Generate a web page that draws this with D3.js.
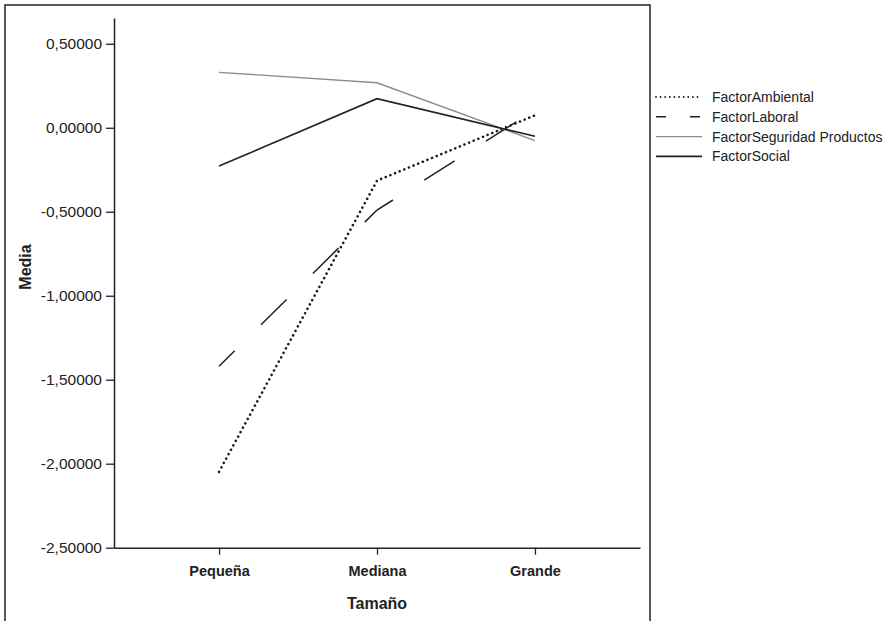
<!DOCTYPE html>
<html>
<head>
<meta charset="utf-8">
<script src="https://cdn.jsdelivr.net/npm/d3@7"></script>
<style>
  html, body { margin: 0; padding: 0; background: #fff; }
  svg { display: block; font-family: "Liberation Sans", Arial, Helvetica, sans-serif; }
</style>
</head>
<body>
<svg id="chart" width="893" height="621"></svg>
<script>
// ---- Data ----
const categories = ["Pequeña", "Mediana", "Grande"];
const seriesNames = ["FactorAmbiental", "FactorLaboral", "FactorSeguridad Productos", "FactorSocial"];
const ambiental = [-2.048, -0.315, 0.074];
const laboral = [-1.42, -0.49, 0.105];
const seguridad = [0.330, 0.268, -0.077];
const social = [-0.228, 0.173, -0.051];
const yTicks = [0.5, 0, -0.5, -1, -1.5, -2, -2.5];
const yTitle = "Media";
const xTitle = "Tamaño";

const seriesValues = [ambiental, laboral, seguridad, social];
const styles = [
  { stroke: "#1a1a1a", width: 2.6, dash: "0.01,5", cap: "round", legendDash: "0.01,4.6", offset: 0 },
  { stroke: "#222", width: 1.5, dash: "36,37", cap: "butt", legendDash: "10,24", offset: 14 },
  { stroke: "#8c8c8c", width: 1.4, dash: null, cap: "butt", legendDash: null, offset: 0 },
  { stroke: "#222", width: 1.6, dash: null, cap: "butt", legendDash: null, offset: 0 }
];

const svg = d3.select("#chart");
const locale = d3.formatLocale({ decimal: ",", thousands: ".", grouping: [3], currency: ["", "€"], minus: "-" });
const fmt = locale.format(".5f");

// frame
svg.append("rect")
  .attr("x", 5).attr("y", 5).attr("width", 645).attr("height", 630)
  .attr("fill", "none").attr("stroke", "#222").attr("stroke-width", 1.5);

const plotLeft = 114, plotRight = 640, plotTop = 18, plotBottom = 547.7;

const x = d3.scalePoint().domain(categories).range([plotLeft, plotRight]).padding(0.665);
const y = d3.scaleLinear().domain([-2.5, 0.6535]).range([plotBottom, plotTop]);

// y axis
const yAxis = svg.append("g")
  .attr("transform", `translate(${plotLeft},0)`)
  .call(d3.axisLeft(y).tickValues(yTicks).tickFormat(fmt).tickSize(8).tickPadding(4).tickSizeOuter(0));
yAxis.select(".domain").attr("stroke", "#222").attr("stroke-width", 1.5);
yAxis.selectAll(".tick line").attr("stroke", "#222").attr("stroke-width", 1.3);
yAxis.selectAll(".tick text").attr("fill", "#222").style("font-size", "15.5px");

// x axis
const xAxis = svg.append("g")
  .attr("transform", `translate(0,${plotBottom})`)
  .call(d3.axisBottom(x).tickSize(7).tickPadding(11).tickSizeOuter(0));
xAxis.select(".domain").attr("stroke", "#222").attr("stroke-width", 1.5);
xAxis.selectAll(".tick line").attr("stroke", "#222").attr("stroke-width", 1.3);
xAxis.selectAll(".tick text").attr("fill", "#222").style("font-size", "14.5px").style("font-weight", "bold");

// axis titles
svg.append("text")
  .attr("transform", "translate(31,267) rotate(-90)")
  .attr("text-anchor", "middle")
  .attr("fill", "#222").style("font-size", "16px").style("font-weight", "bold")
  .text(yTitle);
svg.append("text")
  .attr("x", x("Mediana")).attr("y", 609)
  .attr("text-anchor", "middle")
  .attr("fill", "#222").style("font-size", "16px").style("font-weight", "bold")
  .text(xTitle);

// lines
const line = d3.line().x((d, i) => x(categories[i])).y(d => y(d));
seriesValues.forEach((vals, k) => {
  const s = styles[k];
  const p = svg.append("path")
    .datum(vals)
    .attr("d", line)
    .attr("fill", "none")
    .attr("stroke", s.stroke)
    .attr("stroke-width", s.width)
    .attr("stroke-linecap", s.cap)
    .attr("stroke-linejoin", "miter");
  if (s.dash) p.attr("stroke-dasharray", s.dash).attr("stroke-dashoffset", s.offset);
});

// legend
const lg = svg.append("g");
seriesNames.forEach((name, k) => {
  const s = styles[k];
  const yy = 97 + k * 19.8;
  const l = lg.append("line")
    .attr("x1", 656).attr("x2", 702).attr("y1", yy).attr("y2", yy)
    .attr("stroke", s.stroke)
    .attr("stroke-width", k === 0 ? 1.8 : s.width)
    .attr("stroke-linecap", s.cap);
  if (s.legendDash) l.attr("stroke-dasharray", s.legendDash);
  lg.append("text")
    .attr("x", 712).attr("y", yy).attr("dy", "0.35em")
    .attr("fill", "#222").style("font-size", "14px")
    .text(name);
});
</script>
</body>
</html>
